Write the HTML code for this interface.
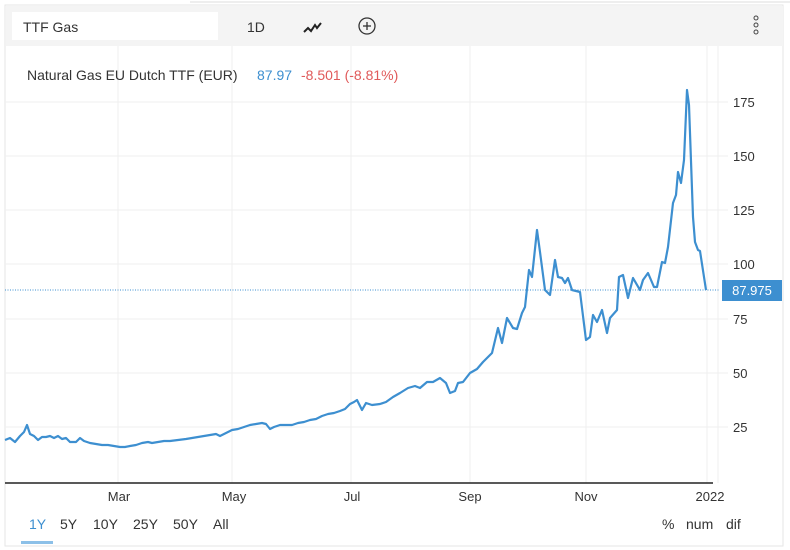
<!DOCTYPE html>
<html><head><meta charset="utf-8"><style>
html,body{margin:0;padding:0;background:#fff;}
body{width:790px;height:550px;position:relative;overflow:hidden;font-family:"Liberation Sans",Arial,sans-serif;}
.t{position:absolute;white-space:nowrap;}
</style></head><body>
<svg width="790" height="550" style="position:absolute;left:0;top:0" font-family="Liberation Sans, Arial, sans-serif">
<line x1="190" y1="2" x2="790" y2="2" stroke="#ddd"/>
<rect x="5" y="5" width="778" height="541" fill="none" stroke="#e6e6e6"/>
<rect x="6" y="6" width="777" height="40" fill="#f4f4f4"/>
<rect x="12" y="12" width="206" height="28" fill="#fff"/>
<text x="23" y="32" font-size="14" fill="#333">TTF Gas</text>
<text x="247" y="32" font-size="14" fill="#333">1D</text>
<polyline points="304,32 308,28 311,31 315,25 317,28 321,23" fill="none" stroke="#222" stroke-width="2"/>
<circle cx="367" cy="26" r="8" fill="none" stroke="#333" stroke-width="1.3"/>
<line x1="363" y1="26" x2="371" y2="26" stroke="#333" stroke-width="1.3"/>
<line x1="367" y1="22" x2="367" y2="30" stroke="#333" stroke-width="1.3"/>
<circle cx="756" cy="18" r="2" fill="none" stroke="#444"/>
<circle cx="756" cy="25" r="2" fill="none" stroke="#444"/>
<circle cx="756" cy="32" r="2" fill="none" stroke="#444"/>
<g stroke="#efefef" stroke-width="1">
<line x1="118" y1="46" x2="118" y2="483"/><line x1="232" y1="46" x2="232" y2="483"/>
<line x1="351" y1="46" x2="351" y2="483"/><line x1="470" y1="46" x2="470" y2="483"/>
<line x1="586" y1="46" x2="586" y2="483"/><line x1="707" y1="46" x2="707" y2="483"/>
<line x1="718" y1="46" x2="718" y2="483"/>
<line x1="5" y1="102" x2="728" y2="102"/><line x1="5" y1="156" x2="728" y2="156"/>
<line x1="5" y1="210" x2="728" y2="210"/><line x1="5" y1="264" x2="728" y2="264"/>
<line x1="5" y1="319" x2="728" y2="319"/><line x1="5" y1="373" x2="728" y2="373"/>
<line x1="5" y1="427" x2="728" y2="427"/>
</g>
<g font-size="13" fill="#333">
<text x="733" y="107">175</text><text x="733" y="161">150</text><text x="733" y="215">125</text>
<text x="733" y="269">100</text><text x="733" y="324">75</text><text x="733" y="378">50</text><text x="733" y="432">25</text>
</g>
<line x1="5" y1="290" x2="720" y2="290" stroke="#3d8fd0" stroke-dasharray="1,1.5"/>
<rect x="722" y="280" width="60" height="21" fill="#3d8fd0"/>
<text x="752" y="295" font-size="13" fill="#fff" text-anchor="middle">87.975</text>
<line x1="5" y1="483" x2="713" y2="483" stroke="#222" stroke-width="1.5"/>
<g font-size="13" fill="#333" text-anchor="middle">
<text x="119" y="501">Mar</text><text x="234" y="501">May</text><text x="352" y="501">Jul</text>
<text x="470" y="501">Sep</text><text x="586" y="501">Nov</text><text x="710" y="501">2022</text>
</g>
<polyline fill="none" stroke="#3d8fd0" stroke-width="2.2" stroke-linejoin="round" points="5,440 10,438 15,442 20,436 24,432 27,425 30,434 34,436 38,440 42,437 46,437 50,436 54,438 58,436 62,439 66,438 70,442 76,442 80,438 84,441 90,443 96,444 102,445 108,445 114,446 120,447 125,447 130,446 136,445 142,443 148,442 152,443 158,442 164,441 170,441 178,440 186,439 192,438 198,437 204,436 210,435 216,434 220,436 226,433 232,430 238,429 244,427 250,425 256,424 262,423 266,424 270,429 274,427 280,425 286,425 292,425 298,423 304,422 310,420 316,419 322,416 328,414 334,413 340,411 345,409 350,404 354,402 357,400 362,410 366,403 372,405 380,404 386,402 393,397 400,393 408,388 415,386 420,388 427,382 433,382 440,378 446,383 450,393 455,391 458,383 463,382 470,373 477,369 483,362 492,353 498,328 502,343 507,318 513,328 517,329 522,313 525,307 529,270 532,277 537,230 540,252 545,290 550,295 555,260 558,277 562,278 565,283 568,278 572,290 580,292 586,340 590,337 593,315 597,322 602,310 607,333 610,318 617,310 619,277 623,275 628,298 633,278 640,290 643,280 648,273 654,287 657,287 662,262 665,263 668,247 673,203 676,195 678,172 681,183 684,160 687,90 689,105 693,217 695,242 698,250 700,251 706,290"/>
<text x="27" y="80" font-size="14" fill="#333">Natural Gas EU Dutch TTF (EUR)</text>
<text x="257" y="80" font-size="14" fill="#3d8fd0">87.97</text>
<text x="301" y="80" font-size="14" fill="#e05a5a">-8.501 (-8.81%)</text>
<g font-size="14" fill="#333">
<text x="29" y="529" fill="#3d8fd0">1Y</text><text x="60" y="529">5Y</text><text x="93" y="529">10Y</text>
<text x="133" y="529">25Y</text><text x="173" y="529">50Y</text><text x="213" y="529">All</text>
<text x="662" y="529">%</text><text x="686" y="529">num</text><text x="726" y="529">dif</text>
</g>
<rect x="21" y="541" width="32" height="3" fill="#8cc0e8"/>
</svg>
</body></html>
